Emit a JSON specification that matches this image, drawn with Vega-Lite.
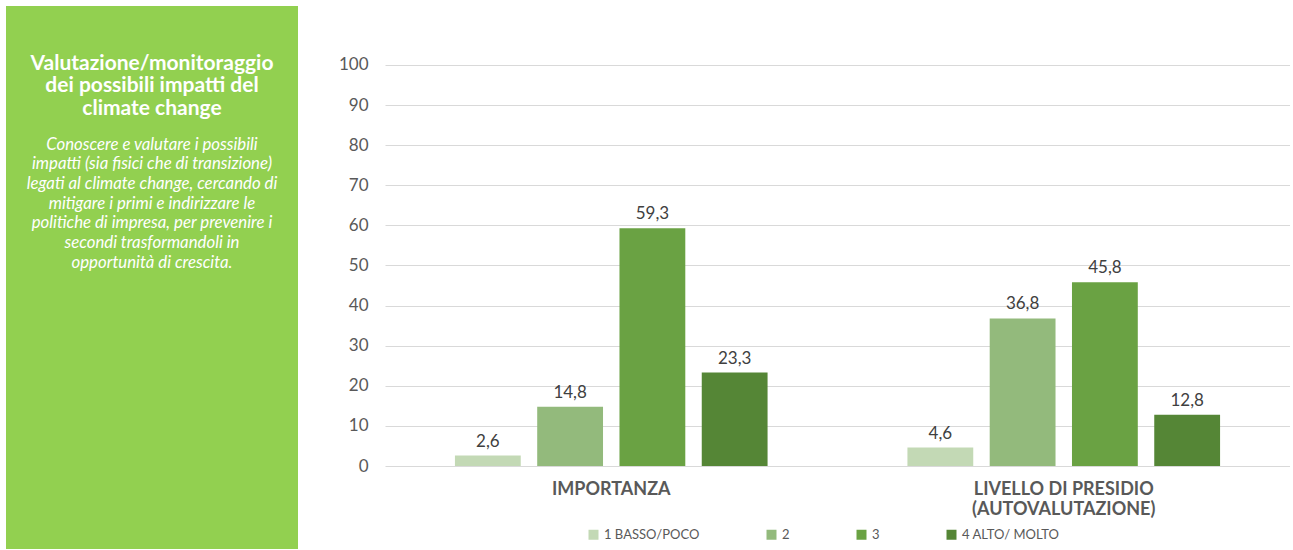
{
  "$schema": "https://vega.github.io/schema/vega-lite/v6.json",
  "padding": {"left": 6, "top": 6, "right": 0, "bottom": 0},
  "background": "white",
  "config": {
    "font": "Lato",
    "view": {"stroke": null},
    "locale": {"number": {"decimal": ",", "thousands": ".", "grouping": [3], "currency": ["€", ""]}},
    "concat": {"spacing": 87}
  },
  "bounds": "flush",
  "hconcat": [
    {
      "width": 292,
      "height": 543,
      "view": {"fill": "#92D050", "stroke": null},
      "data": {"values": [{
        "titolo": "Valutazione/monitoraggio\ndei possibili impatti del\nclimate change",
        "testo": "Conoscere e valutare i possibili\nimpatti (sia fisici che di transizione)\nlegati al climate change, cercando di\nmitigare i primi e indirizzare le\npolitiche di impresa, per prevenire i\nsecondi trasformandoli in\nopportunità di crescita."
      }]},
      "layer": [
        {
          "mark": {"type": "text", "lineBreak": "\n", "lineHeight": 22.5, "fontSize": 21, "fontWeight": "bold", "color": "white", "align": "center", "baseline": "middle", "dy": -214},
          "encoding": {"text": {"field": "titolo"}}
        },
        {
          "mark": {"type": "text", "lineBreak": "\n", "lineHeight": 19.7, "fontSize": 16.8, "fontStyle": "italic", "color": "white", "align": "center", "baseline": "middle", "dy": -133},
          "encoding": {"text": {"field": "testo"}}
        }
      ]
    },
    {
      "width": 905,
      "height": 460,
      "data": {"values": [
        {"gruppo": "IMPORTANZA", "livello": "1 BASSO/POCO", "valore": 2.6},
        {"gruppo": "IMPORTANZA", "livello": "2", "valore": 14.8},
        {"gruppo": "IMPORTANZA", "livello": "3", "valore": 59.3},
        {"gruppo": "IMPORTANZA", "livello": "4 ALTO/ MOLTO", "valore": 23.3},
        {"gruppo": "LIVELLO DI PRESIDIO (AUTOVALUTAZIONE)", "livello": "1 BASSO/POCO", "valore": 4.6},
        {"gruppo": "LIVELLO DI PRESIDIO (AUTOVALUTAZIONE)", "livello": "2", "valore": 36.8},
        {"gruppo": "LIVELLO DI PRESIDIO (AUTOVALUTAZIONE)", "livello": "3", "valore": 45.8},
        {"gruppo": "LIVELLO DI PRESIDIO (AUTOVALUTAZIONE)", "livello": "4 ALTO/ MOLTO", "valore": 12.8}
      ]},
      "encoding": {
        "x": {
          "field": "gruppo", "type": "nominal", "sort": null,
          "scale": {"paddingInner": 0, "paddingOuter": 0},
          "axis": {
            "title": null, "labelAngle": 0, "ticks": false, "domain": false,
            "labelFont": "Lato", "labelFontSize": 18, "labelFontWeight": "bold", "labelColor": "#595959",
            "labelPadding": 14, "labelBaseline": "top", "labelLineHeight": 20, "labelLimit": 500,
            "labelExpr": "datum.label == 'IMPORTANZA' ? datum.label : ['LIVELLO DI PRESIDIO', '(AUTOVALUTAZIONE)']"
          }
        },
        "xOffset": {
          "field": "livello", "type": "nominal", "sort": null,
          "scale": {"paddingInner": 0.2, "paddingOuter": 0.85}
        },
        "y": {
          "field": "valore", "type": "quantitative",
          "scale": {"domain": [0, 114.7], "nice": false},
          "axis": {
            "title": null, "values": [0, 10, 20, 30, 40, 50, 60, 70, 80, 90, 100],
            "domain": false, "ticks": false, "gridColor": "#D9D9D9", "gridWidth": 1,
            "labelFont": "Lato", "labelFontSize": 17, "labelColor": "#595959", "labelPadding": 17
          }
        }
      },
      "layer": [
        {
          "mark": {"type": "bar"},
          "encoding": {
            "color": {
              "field": "livello", "type": "nominal", "sort": null,
              "scale": {"domain": ["1 BASSO/POCO", "2", "3", "4 ALTO/ MOLTO"], "range": ["#C3D9B5", "#93BA7C", "#6AA243", "#558636"]},
              "legend": {
                "title": null, "orient": "none", "direction": "horizontal",
                "legendX": 581, "legendY": 522,
                "symbolType": "square", "symbolSize": 100, "symbolStrokeWidth": 0,
                "labelFont": "Lato", "labelFontSize": 13, "labelColor": "#595959",
                "labelOffset": 4, "columnPadding": 65
              }
            }
          }
        },
        {
          "mark": {"type": "text", "fontSize": 17, "color": "#404040", "baseline": "alphabetic", "dy": -9},
          "encoding": {
            "text": {"field": "valore", "type": "quantitative", "format": ".1f"}
          }
        },
        {
          "data": {"values": [{"nota": "Valori % sul totale dei rispondenti"}]},
          "mark": {"type": "text", "fontSize": 11, "color": "#404040", "align": "right", "baseline": "middle", "dx": -8},
          "encoding": {
            "text": {"field": "nota"},
            "x": {"value": "width"},
            "y": {"datum": 95},
            "xOffset": null
          }
        }
      ]
    }
  ]
}
